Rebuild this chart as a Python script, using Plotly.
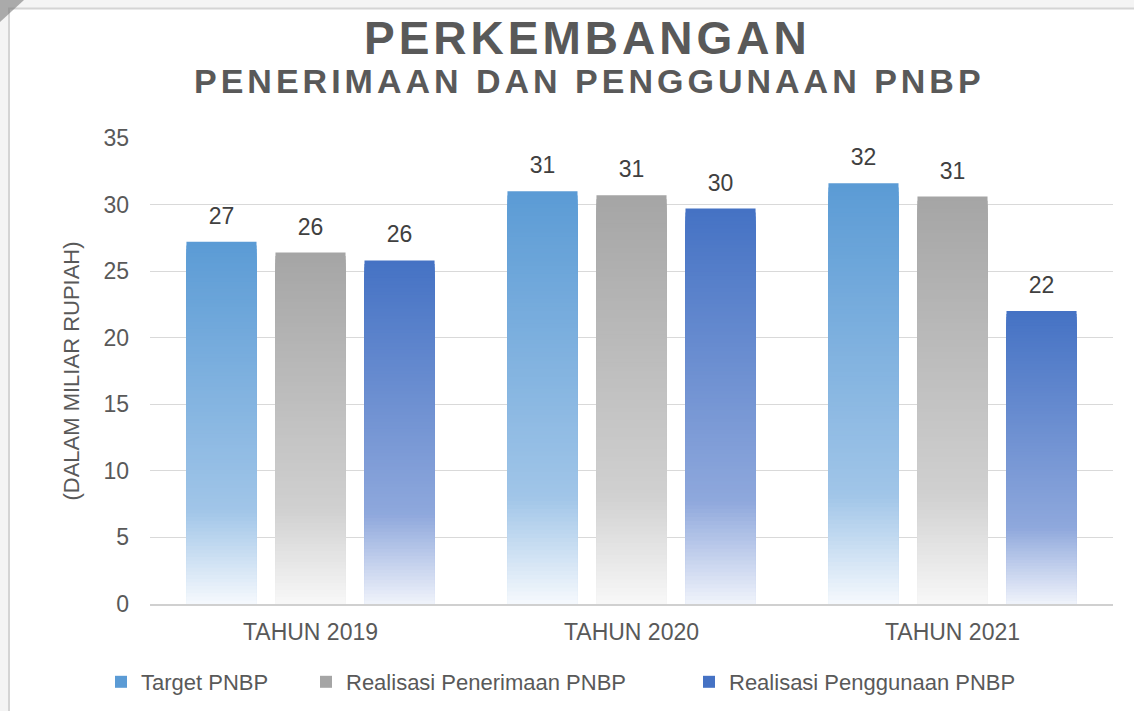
import plotly.graph_objects as go

# ---------------- data ----------------
categories = ["TAHUN 2019", "TAHUN 2020", "TAHUN 2021"]
series_names = ["Target PNBP", "Realisasi Penerimaan PNBP", "Realisasi Penggunaan PNBP"]
target_pnbp = [27.2, 31.0, 31.6]
realisasi_penerimaan = [26.4, 30.7, 30.6]
realisasi_penggunaan = [25.8, 29.7, 22.0]
y_ticks = [0, 5, 10, 15, 20, 25, 30, 35]

series_values = [target_pnbp, realisasi_penerimaan, realisasi_penggunaan]

# gradient stops (fraction of bar height from bottom -> rgb)
gradients = [
    [(0.0, (246, 249, 253)), (0.26, (160, 197, 232)), (1.0, (91, 155, 213))],
    [(0.0, (248, 248, 248)), (0.27, (208, 208, 208)), (1.0, (165, 165, 165))],
    [(0.0, (240, 243, 251)), (0.26, (143, 168, 220)), (1.0, (68, 114, 196))],
]
legend_widths = [160, 338, 330]

N_SEG = 100
TEXT_COLOR = "#595959"
FONT = "Liberation Sans, Arial, sans-serif"

W, H = 1134, 711
ML, MR, MT, MB = 150, 21, 138, 107
PW, PH = W - ML - MR, H - MT - MB
BARGAP = 0.168


def xp(px):
    return (px - ML) / PW


def yp(py):
    return (H - MB - py) / PH


def interp(stops, f):
    for (f0, c0), (f1, c1) in zip(stops[:-1], stops[1:]):
        if f0 <= f <= f1:
            t = (f - f0) / (f1 - f0) if f1 > f0 else 0
            c = [round(a + (b - a) * t) for a, b in zip(c0, c1)]
            return "rgb({},{},{})".format(*c)
    c = stops[-1][1]
    return "rgb({},{},{})".format(*c)


fig = go.Figure()

for si, (name, vals, stops) in enumerate(zip(series_names, series_values, gradients)):
    for k in range(N_SEG, 0, -1):
        frac = k / N_SEG
        is_top = k == N_SEG
        fig.add_trace(go.Bar(
            x=categories,
            y=[v * frac for v in vals],
            name=name,
            offsetgroup=str(si),
            legendgroup=name,
            showlegend=is_top,
            legendwidth=legend_widths[si],
            marker=dict(color=interp(stops, (k - 0.5) / N_SEG), line=dict(width=0)),
            hoverinfo="skip" if not is_top else None,
            hovertemplate="%{x}<br>" + name + ": %{y}<extra></extra>" if is_top else None,
        ))

# data labels aligned with grouped bars
for si, (name, vals) in enumerate(zip(series_names, series_values)):
    fig.add_trace(go.Scatter(
        x=categories, y=vals,
        mode="markers+text",
        text=[f"{v:.0f}" for v in vals],
        textposition="top center",
        textfont=dict(size=23, color="#404040", family=FONT),
        marker=dict(size=18, opacity=0),
        offsetgroup=str(si),
        showlegend=False, hoverinfo="skip", cliponaxis=False,
    ))

# title annotations
fig.add_annotation(
    text='<span style="letter-spacing:4px"><b>PERKEMBANGAN</b></span>',
    xref="paper", yref="paper", x=xp(587), y=yp(38),
    xanchor="center", yanchor="middle", showarrow=False,
    font=dict(family=FONT, size=46, color=TEXT_COLOR),
)
fig.add_annotation(
    text='<span style="letter-spacing:4px"><b>PENERIMAAN DAN PENGGUNAAN PNBP</b></span>',
    xref="paper", yref="paper", x=xp(589), y=yp(81),
    xanchor="center", yanchor="middle", showarrow=False,
    font=dict(family=FONT, size=34, color=TEXT_COLOR),
)

# decorative frame (page edge)
shapes = [
    dict(type="rect", xref="paper", yref="paper", x0=xp(0), x1=xp(W), y0=yp(0), y1=yp(8),
         fillcolor="#F4F4F4", line=dict(width=0), layer="below"),
    dict(type="rect", xref="paper", yref="paper", x0=xp(0), x1=xp(8), y0=yp(0), y1=yp(H),
         fillcolor="#F4F4F4", line=dict(width=0), layer="below"),
    dict(type="line", xref="paper", yref="paper", x0=xp(8), x1=xp(W), y0=yp(8.5), y1=yp(8.5),
         line=dict(color="#D4D4D4", width=2)),
    dict(type="line", xref="paper", yref="paper", x0=xp(9), x1=xp(9), y0=yp(8), y1=yp(H),
         line=dict(color="#D4D4D4", width=2)),
    dict(type="path", xref="paper", yref="paper",
         path=f"M {xp(0)},{yp(0)} L {xp(24)},{yp(0)} L {xp(0)},{yp(22)} Z",
         fillcolor="rgba(110,110,110,0.55)", line=dict(width=0)),
]

fig.update_layout(
    width=W, height=H,
    margin=dict(l=ML, r=MR, t=MT, b=MB, autoexpand=False),
    paper_bgcolor="white", plot_bgcolor="white",
    barmode="group", bargap=BARGAP, bargroupgap=0.213,
    scattermode="group", scattergap=BARGAP,
    font=dict(family=FONT, color=TEXT_COLOR),
    showlegend=True,
    legend=dict(
        orientation="h", x=xp(101), xanchor="left", y=yp(682), yanchor="middle",
        font=dict(family=FONT, size=22, color=TEXT_COLOR),
        itemwidth=30, traceorder="normal", bgcolor="rgba(0,0,0,0)",
    ),
    shapes=shapes,
    xaxis=dict(
        type="category", showgrid=False, showline=True, linecolor="#D0D0D0", linewidth=1.5,
        ticks="", tickfont=dict(family=FONT, size=23, color=TEXT_COLOR),
        ticklabelstandoff=7, zeroline=False,
    ),
    yaxis=dict(
        range=[0, 35], tickvals=y_ticks, ticktext=[str(t) for t in y_ticks],
        showgrid=True, gridcolor="#D9D9D9", gridwidth=1, zeroline=False, showline=False,
        ticks="", tickfont=dict(family=FONT, size=23, color=TEXT_COLOR),
        ticklabelstandoff=20,
        title=dict(text="(DALAM MILIAR RUPIAH)", standoff=17,
                   font=dict(family=FONT, size=22, color=TEXT_COLOR)),
    ),
)

fig.write_html(
    "out.html",
    config={"displayModeBar": False},
    post_script="document.body.style.margin='0px';document.body.style.overflow='hidden';",
)
